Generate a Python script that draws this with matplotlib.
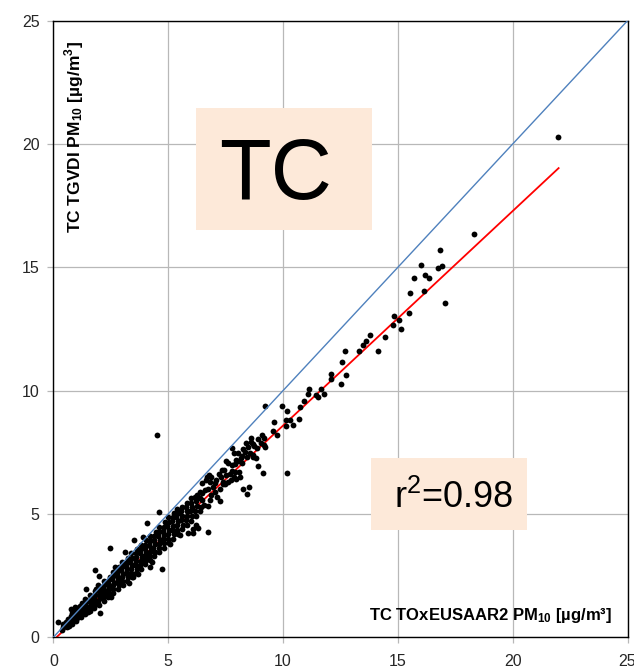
import numpy as np
import matplotlib.pyplot as plt
from matplotlib.patches import Rectangle

plt.rcParams['font.family'] = ['Liberation Sans', 'DejaVu Sans']
plt.rcParams['mathtext.fontset'] = 'custom'
plt.rcParams['mathtext.rm'] = 'Liberation Sans'
plt.rcParams['mathtext.bf'] = 'Liberation Sans:bold'

# dichter Bereich (niedrige Konzentrationen), Spalten von links nach rechts
band_x = [0.38, 0.44, 0.40,
          0.58, 0.64, 0.56, 0.62,
          0.80, 0.76, 0.84, 0.78, 0.82,
          1.00, 1.05, 0.96, 1.03, 0.98, 1.02,
          1.20, 1.16, 1.24, 1.18, 1.22, 1.26,
          1.38, 1.44, 1.40, 1.36, 1.42, 1.40,
          1.60, 1.56, 1.64, 1.58, 1.62, 1.60,
          1.78, 1.84, 1.80, 1.76, 1.82, 1.80, 1.86,
          2.00, 1.96, 2.04, 1.98, 2.02, 2.00, 1.95,
          2.22, 2.18, 2.20, 2.24, 2.16, 2.22, 2.20,
          2.40, 2.44, 2.36, 2.42, 2.38, 2.40, 2.45,
          2.62, 2.58, 2.60, 2.64, 2.56, 2.62, 2.60,
          2.80, 2.84, 2.76, 2.82, 2.78, 2.80, 2.85,
          3.02, 2.98, 3.00, 3.04, 2.96, 3.02, 3.00,
          3.20, 3.24, 3.16, 3.22, 3.18, 3.20, 3.25,
          3.42, 3.38, 3.40, 3.44, 3.36, 3.42, 3.40,
          3.60, 3.64, 3.56, 3.62, 3.58, 3.60, 3.65,
          3.82, 3.78, 3.80, 3.84, 3.76, 3.82, 3.80,
          4.00, 4.04, 3.96, 4.02, 3.98, 4.00, 4.05,
          4.22, 4.18, 4.20, 4.24, 4.16, 4.22, 4.20,
          4.40, 4.44, 4.36, 4.42, 4.38, 4.40, 4.45,
          4.62, 4.58, 4.60, 4.64, 4.56, 4.62, 4.60,
          4.80, 4.84, 4.76, 4.82, 4.78, 4.80, 4.85,
          5.02, 4.98, 5.00, 5.04, 4.96, 5.02, 5.00,
          5.20, 5.24, 5.16, 5.22, 5.18, 5.20, 5.25,
          5.42, 5.38, 5.40, 5.44, 5.36, 5.42, 5.40,
          5.60, 5.64, 5.56, 5.62, 5.58, 5.60,
          5.82, 5.78, 5.80, 5.84, 5.76, 5.82,
          6.00, 6.04, 5.96, 6.02, 5.98, 6.00,
          6.22, 6.18, 6.24,
          6.40, 6.44,
          1.50, 2.50, 3.30, 4.30, 5.10, 5.50, 2.70, 3.90]
band_y = [0.30, 0.42, 0.55,
          0.42, 0.52, 0.62, 0.75,
          0.55, 0.66, 0.76, 0.86, 0.98,
          0.68, 0.80, 0.90, 1.00, 1.10, 1.18,
          0.82, 0.95, 1.05, 1.15, 1.26, 1.38,
          0.96, 1.08, 1.20, 1.30, 1.42, 1.56,
          1.08, 1.22, 1.35, 1.46, 1.58, 1.72,
          1.20, 1.34, 1.48, 1.60, 1.72, 1.86, 1.96,
          1.32, 1.46, 1.60, 1.72, 1.84, 1.98, 2.12,
          1.48, 1.62, 1.76, 1.88, 2.00, 2.14, 2.28,
          1.64, 1.78, 1.92, 2.04, 2.16, 2.30, 2.44,
          1.80, 1.95, 2.10, 2.22, 2.35, 2.50, 2.66,
          1.96, 2.12, 2.26, 2.40, 2.54, 2.68, 2.84,
          2.12, 2.28, 2.44, 2.58, 2.72, 2.88, 3.04,
          2.28, 2.44, 2.60, 2.75, 2.90, 3.05, 3.22,
          2.44, 2.60, 2.76, 2.92, 3.06, 3.22, 3.40,
          2.60, 2.76, 2.92, 3.08, 3.24, 3.40, 3.58,
          2.78, 2.94, 3.10, 3.26, 3.42, 3.58, 3.76,
          2.96, 3.12, 3.28, 3.44, 3.60, 3.76, 3.94,
          3.12, 3.28, 3.44, 3.60, 3.76, 3.92, 4.10,
          3.28, 3.44, 3.60, 3.78, 3.94, 4.10, 4.28,
          3.46, 3.62, 3.80, 3.96, 4.12, 4.28, 4.46,
          3.64, 3.82, 3.98, 4.14, 4.32, 4.48, 4.66,
          3.82, 4.00, 4.18, 4.34, 4.50, 4.68, 4.86,
          4.00, 4.18, 4.36, 4.52, 4.70, 4.86, 5.04,
          4.18, 4.36, 4.54, 4.70, 4.88, 5.04, 5.22,
          4.38, 4.56, 4.74, 4.92, 5.10, 5.28,
          4.56, 4.74, 4.92, 5.10, 5.28, 5.46,
          4.72, 4.92, 5.10, 5.28, 5.46, 5.66,
          4.92, 5.12, 5.32,
          5.10, 5.30,
          1.02, 1.62, 2.22, 3.05, 3.78, 4.15, 2.85, 4.05]

# Einzelpunkte am Rand des dichten Bereichs
edge_x = [0.22, 0.70, 2.02, 1.81, 2.00, 2.48, 3.10, 3.51, 4.06, 4.61, 3.70, 3.46,
          4.75, 4.20, 5.85, 6.09, 6.32, 6.10, 6.74, 6.23, 1.42, 0.76, 0.95, 1.16, 4.51]
edge_y = [0.62, 0.47, 1.00, 2.72, 2.50, 3.60, 3.47, 3.95, 4.65, 5.06, 2.56, 2.46,
          2.77, 2.86, 4.24, 4.24, 4.42, 4.41, 4.25, 4.55, 1.95, 1.13, 1.24, 1.26, 8.20]

# mittlerer Bereich (6-10 µg/m³)
mid_x = [9.10, 9.17, 8.93, 9.03, 9.19, 9.23, 8.87, 8.74, 8.68, 8.61, 8.62, 8.40,
         8.49, 8.27, 8.33, 8.56, 8.68, 8.69, 8.43, 8.20, 8.10, 8.20, 7.87, 7.77,
         8.04, 8.16, 7.97, 7.93, 7.77, 7.62, 7.51, 7.78, 7.91, 8.08, 8.11, 7.87,
         7.95, 7.69, 7.53, 7.43, 7.35, 7.21, 7.10, 7.30, 7.39, 7.04, 7.39, 7.26,
         6.95, 6.88, 6.84, 6.78, 6.69, 6.64, 6.49, 6.75, 6.59, 6.46, 6.37, 6.26,
         6.16, 6.20, 6.37, 6.49, 6.58, 6.74, 6.81, 6.88, 7.24, 7.13, 7.03, 7.46,
         7.61, 7.75, 8.84, 8.91, 9.13, 8.52, 8.26, 8.43, 10.19]
mid_y = [8.22, 8.09, 8.02, 7.86, 7.80, 7.72, 7.66, 7.75, 7.83, 8.10, 7.93, 7.86,
         7.71, 7.62, 7.51, 7.48, 7.41, 7.32, 7.32, 7.37, 7.14, 7.07, 7.48, 7.66,
         7.48, 7.26, 7.18, 7.02, 6.97, 7.05, 7.13, 6.76, 6.70, 6.70, 6.48, 6.48,
         6.40, 6.64, 6.58, 6.78, 6.78, 6.62, 6.37, 6.48, 6.29, 6.24, 6.20, 6.03,
         6.10, 6.51, 6.30, 6.60, 6.48, 6.37, 6.24, 6.01, 5.97, 5.83, 5.89, 5.78,
         5.70, 5.53, 5.63, 5.56, 5.36, 5.34, 5.56, 5.76, 5.53, 5.67, 5.90, 6.20,
         6.30, 6.37, 7.25, 6.94, 6.67, 6.10, 6.03, 5.79, 6.65]

# obere Werte (> 9 µg/m³)
high_x = [21.99, 18.33, 16.83, 15.99, 16.74, 16.93, 16.17, 16.36, 15.71, 15.52, 16.12,
          17.07, 15.47, 14.84, 15.03, 14.77, 15.12, 14.43, 14.13, 13.78, 13.60, 13.50,
          13.29, 12.71, 12.55, 12.76, 12.51, 12.10, 12.07, 11.64, 11.13, 11.10, 11.45,
          11.52, 11.78, 10.91, 10.73, 10.68, 10.42, 10.32, 10.12, 10.15, 10.17, 9.94,
          9.61, 9.57, 9.74, 9.23]
high_y = [20.29, 16.35, 15.69, 15.10, 14.98, 15.04, 14.70, 14.58, 14.58, 13.97, 14.05,
          13.54, 13.16, 13.01, 12.86, 12.67, 12.48, 12.19, 11.59, 12.25, 12.01, 11.85,
          11.62, 11.62, 11.15, 10.62, 10.26, 10.66, 10.46, 10.05, 10.08, 9.86, 9.82,
          9.74, 9.86, 9.58, 9.35, 8.84, 8.61, 8.81, 8.82, 8.55, 9.17, 9.39,
          8.73, 8.36, 8.20, 9.39]

# Regressionsgerade
fit_slope = 0.870
fit_intercept = -0.118
fit_range = [0.17, 22.0]
ticks = [0, 5, 10, 15, 20, 25]

x_all = np.array(band_x + edge_x + mid_x + high_x)
y_all = np.array(band_y + edge_y + mid_y + high_y)

fig = plt.figure(figsize=(6.34, 6.69), dpi=100)
ax = fig.add_axes([0.0841, 0.0474, 0.9057, 0.9217])

fx = np.array(fit_range)
ax.plot(fx, fit_slope * fx + fit_intercept, color='#FF0000', lw=1.3, zorder=2)
ax.plot(x_all, y_all, 'o', color='black', ms=4.2, mew=0, zorder=3)
ax.plot([0, 25], [0, 25], color='#4F81BD', lw=1.0, zorder=4)

ax.set_xlim(0, 25)
ax.set_ylim(0, 25)
ax.set_xticks(ticks)
ax.set_yticks(ticks)
ax.grid(True, color='#B8B8B8', lw=0.9)
ax.set_axisbelow(True)
ax.tick_params(direction='out', length=4, width=0.9, color='#B8B8B8',
               labelsize=11.5, labelcolor='#262626', pad=6)
ax.tick_params(axis='x', pad=8)
for s in ax.spines.values():
    s.set_color('black')
    s.set_linewidth(1.0)

ax.add_patch(Rectangle((0.2485, 0.6606), 0.3071, 0.1984, transform=ax.transAxes,
                       facecolor='#FDE9D9', edgecolor='none', zorder=5))
ax.text(0.289, 0.711, 'TC', transform=ax.transAxes, fontsize=61,
        ha='left', va='baseline', zorder=6)

ax.add_patch(Rectangle((0.5533, 0.174), 0.2717, 0.1163, transform=ax.transAxes,
                       facecolor='#FDE9D9', edgecolor='none', zorder=5))
ax.text(0.593, 0.2092, r'r$^{2}$=0.98', transform=ax.transAxes, fontsize=26,
        ha='left', va='baseline', zorder=6)

ax.text(0.036, 0.655, r'TC TGVDI $\mathbf{PM_{10}}$ [µg/m$^{\mathbf{3}}$]',
        transform=ax.transAxes, rotation=90, fontsize=12.5, fontweight='bold',
        ha='center', va='bottom', zorder=6)
ax.text(0.973, 0.028, r'TC TOxEUSAAR2 $\mathbf{PM_{10}}$ [µg/m³]',
        transform=ax.transAxes, fontsize=12, fontweight='bold',
        ha='right', va='baseline', zorder=6)

fig.savefig('out.png', dpi=100)
